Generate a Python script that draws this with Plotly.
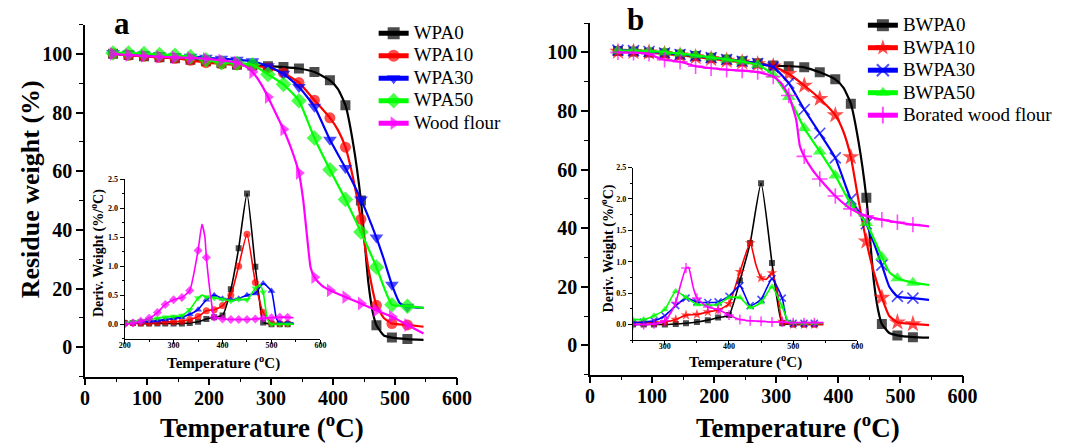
import plotly.graph_objects as go

FONT = "Liberation Serif"
W_PX, H_PX = 1072, 443

# ---------------- Panel a: TGA curves (Temperature degC, residue %) ----------------
wpa0_t = [45, 70, 95, 120, 145, 170, 195, 220, 245, 270, 295, 320, 345, 370, 395, 408, 420, 432, 445, 457, 464, 470, 482, 495, 520, 546]
wpa0_w = [100, 99.6, 99.2, 98.8, 98.5, 98, 97.5, 96.8, 96.3, 96, 95.8, 95.5, 95, 93.8, 91, 88, 82.5, 70, 50, 22, 12, 7.5, 4, 3.3, 2.8, 2.5]

wpa10_t = [45, 70, 95, 120, 145, 170, 195, 220, 245, 270, 295, 320, 345, 370, 395, 408, 420, 432, 445, 457, 470, 482, 495, 520, 546]
wpa10_w = [100, 99.5, 99.2, 98.8, 98.5, 97.8, 97, 96.6, 96.3, 96, 95.2, 93.5, 90.2, 84.2, 78.2, 74, 68.2, 58, 43.6, 27, 14.3, 10, 8.1, 7.6, 7]

wpa30_t = [45, 70, 95, 120, 145, 170, 195, 220, 245, 270, 295, 320, 345, 370, 395, 420, 445, 470, 482, 495, 508, 520, 546]
wpa30_w = [100.3, 100, 99.8, 99.5, 99.2, 99, 98.7, 98.3, 98, 97.5, 95.8, 93.2, 88.7, 82, 70.7, 61.1, 50.4, 37.4, 30, 21.3, 15, 13.8, 13.4]

wpa50_t = [45, 70, 95, 120, 145, 170, 195, 220, 245, 270, 295, 320, 345, 370, 395, 420, 445, 470, 483, 495, 520, 546]
wpa50_w = [100.3, 100.3, 100.1, 99.8, 99.5, 99, 98, 97, 96.8, 96.3, 93, 89.6, 84, 71.3, 60.5, 50.4, 39.3, 27.3, 20, 14.5, 14, 13.4]

wood_t = [45, 70, 95, 120, 145, 170, 195, 220, 245, 258, 270, 283, 295, 307, 320, 332, 345, 352, 358, 364, 370, 382, 395, 420, 445, 470, 495, 520, 546]
wood_w = [100, 99.6, 99.3, 99, 98.8, 98.6, 98.3, 97.8, 97, 95.8, 93.8, 90, 85.3, 80, 74.3, 68, 59.4, 50, 38, 27, 23.9, 21, 19.4, 17.1, 14.9, 12.6, 10.4, 7.6, 4.7]

# ---------------- Panel b: TGA curves ----------------
bwpa0_t = [45, 70, 95, 120, 145, 170, 195, 220, 245, 270, 295, 320, 345, 370, 395, 408, 420, 432, 445, 457, 464, 470, 482, 495, 520, 546]
bwpa0_w = [100.5, 100.3, 100, 99.7, 99.3, 98.8, 98.2, 97.6, 97, 96.3, 95.5, 95.3, 94.9, 93.2, 90.8, 88, 82.5, 70, 50.4, 22, 12, 7.3, 4.2, 3.4, 2.8, 2.6]

bwpa10_t = [45, 70, 95, 120, 145, 170, 195, 220, 245, 270, 295, 320, 345, 370, 395, 408, 420, 432, 445, 457, 470, 482, 495, 520, 546]
bwpa10_w = [100.3, 100.2, 100, 99.5, 99, 98.4, 97.8, 97.2, 96.6, 96, 95.3, 92.7, 88.7, 84.2, 78.6, 73, 64.3, 50, 35.5, 25, 16.3, 10, 7.9, 7.3, 6.9]

bwpa30_t = [45, 70, 95, 120, 145, 170, 195, 220, 245, 270, 295, 320, 345, 370, 395, 420, 445, 470, 482, 495, 520, 546]
bwpa30_w = [100.8, 100.6, 100.3, 99.8, 99.3, 98.8, 98.2, 97.6, 97, 96.2, 95, 89.5, 80.5, 72.4, 64, 49.9, 41.5, 27.4, 20, 16.7, 16.1, 15.5]

bwpa50_t = [45, 70, 95, 120, 145, 170, 195, 220, 245, 270, 295, 320, 345, 370, 395, 420, 445, 470, 482, 495, 520, 546]
bwpa50_w = [100.6, 100.6, 100.5, 100.1, 99.6, 99, 98.3, 97.6, 96.9, 95.8, 92.4, 84.8, 74.1, 66.2, 58, 48.2, 41.8, 30.2, 25, 22.9, 21.4, 20.6]

borated_t = [45, 70, 95, 108, 120, 145, 170, 195, 220, 245, 270, 295, 308, 320, 332, 338, 345, 358, 370, 395, 420, 445, 470, 495, 520, 546]
borated_w = [100, 99.9, 99.5, 98.3, 97.5, 96.8, 95.3, 94.6, 94.1, 93.8, 93.3, 91.8, 89.5, 85.3, 77, 68, 64.5, 60, 56.8, 51, 46.6, 44.2, 42.9, 42, 41.2, 40.6]

# ---------------- Inset a: DTG curves (%/degC) ----------------
wpa0_dt = [200, 217, 233, 250, 267, 283, 300, 317, 333, 350, 367, 383, 400, 417, 433, 450, 467, 475, 483, 500, 517, 533, 545]
wpa0_d = [0.02, 0.02, 0.01, 0.01, 0.01, 0.01, 0.01, 0.01, 0.02, 0.04, 0.09, 0.12, 0.15, 0.6, 1.31, 2.25, 0.99, 0.45, 0.03, 0.0, 0.0, 0.0, 0.0]

wpa10_dt = [200, 217, 233, 250, 267, 283, 300, 317, 333, 350, 367, 383, 400, 417, 433, 450, 467, 483, 500, 517, 533, 545]
wpa10_d = [0.02, 0.02, 0.02, 0.02, 0.03, 0.04, 0.04, 0.05, 0.08, 0.13, 0.23, 0.25, 0.32, 0.5, 1.0, 1.55, 0.72, 0.2, 0.02, 0.01, 0.01, 0.01]

wpa30_dt = [200, 217, 233, 250, 267, 283, 300, 317, 333, 350, 367, 383, 400, 417, 433, 450, 467, 483, 500, 510, 517, 533, 545]
wpa30_d = [0.03, 0.03, 0.04, 0.05, 0.06, 0.08, 0.1, 0.12, 0.17, 0.25, 0.42, 0.5, 0.44, 0.42, 0.44, 0.5, 0.53, 0.7, 0.57, 0.1, 0.02, 0.02, 0.02]

wpa50_dt = [200, 217, 233, 250, 267, 283, 300, 317, 333, 350, 358, 367, 383, 400, 417, 433, 450, 467, 476, 483, 492, 500, 517, 533, 545]
wpa50_d = [0.02, 0.04, 0.06, 0.08, 0.1, 0.12, 0.13, 0.15, 0.25, 0.45, 0.5, 0.47, 0.45, 0.43, 0.4, 0.43, 0.42, 0.62, 0.68, 0.55, 0.08, 0.0, 0.0, 0.0, 0.0]

wood_dt = [200, 217, 233, 250, 267, 283, 300, 317, 333, 350, 358, 364, 367, 377, 383, 400, 417, 433, 450, 467, 483, 500, 517, 533, 545]
wood_d = [0.0, 0.02, 0.05, 0.1, 0.2, 0.34, 0.42, 0.46, 0.58, 1.27, 1.72, 1.5, 1.15, 0.4, 0.12, 0.09, 0.08, 0.08, 0.08, 0.09, 0.1, 0.11, 0.12, 0.12, 0.11]

# ---------------- Inset b: DTG curves ----------------
bwpa0_dt = [250, 267, 283, 300, 317, 333, 350, 367, 383, 400, 417, 433, 450, 467, 475, 483, 500, 517, 533, 547]
bwpa0_d = [0.0, 0.0, 0.0, 0.0, 0.01, 0.02, 0.04, 0.07, 0.11, 0.15, 0.7, 1.3, 2.25, 0.98, 0.4, 0.02, 0.0, 0.0, 0.0, 0.0]

bwpa10_dt = [250, 267, 283, 300, 317, 333, 350, 367, 383, 400, 417, 433, 442, 450, 458, 467, 475, 483, 500, 517, 533, 547]
bwpa10_d = [0.03, 0.03, 0.03, 0.04, 0.08, 0.15, 0.16, 0.2, 0.23, 0.33, 0.84, 1.3, 0.95, 0.74, 0.72, 0.82, 0.55, 0.05, 0.0, 0.0, 0.0, 0.0]

bwpa30_dt = [250, 267, 283, 300, 317, 333, 350, 367, 383, 400, 417, 433, 450, 467, 483, 490, 500, 517, 533, 547]
bwpa30_d = [0.03, 0.04, 0.06, 0.14, 0.3, 0.42, 0.36, 0.35, 0.36, 0.45, 0.62, 0.3, 0.4, 0.73, 0.42, 0.08, 0.02, 0.02, 0.02, 0.02]

bwpa50_dt = [250, 267, 283, 300, 317, 333, 350, 367, 383, 400, 417, 433, 450, 467, 483, 492, 500, 517, 533, 547]
bwpa50_d = [0.08, 0.08, 0.14, 0.24, 0.53, 0.43, 0.32, 0.31, 0.32, 0.43, 0.43, 0.27, 0.35, 0.6, 0.28, 0.06, 0.03, 0.02, 0.02, 0.02]

borated_dt = [250, 267, 283, 300, 310, 317, 325, 333, 337, 344, 350, 367, 383, 400, 417, 433, 450, 467, 483, 500, 517, 533, 547]
borated_d = [0.0, 0.0, 0.01, 0.06, 0.2, 0.35, 0.65, 0.9, 0.91, 0.6, 0.42, 0.28, 0.24, 0.15, 0.08, 0.06, 0.05, 0.04, 0.04, 0.03, 0.03, 0.03, 0.03]

# tick values
main_x_ticks = [0, 100, 200, 300, 400, 500, 600]
main_y_ticks = [0, 20, 40, 60, 80, 100]
inset_a_x_ticks = [200, 300, 400, 500, 600]
inset_b_x_ticks = [300, 400, 500, 600]
inset_y_ticks = [0.0, 0.5, 1.0, 1.5, 2.0, 2.5]

# marker sampling (markers every 25 degC on main curves, every 16.7 degC in insets)
MAIN_T0, MAIN_STEP = 45, 25
INSET_T0, INSET_STEP = 200, 50 / 3

BLACK, RED, BLUE, GREEN, MAGENTA = "#000000", "#ff0000", "#0000ff", "#00ff00", "#ff00ff"


def px_x(px):
    return px / W_PX


def px_y(py):
    return 1 - py / H_PX


def marker_sizes(ts, t0, step, size):
    out = []
    for t in ts:
        k = round((t - t0) / step)
        out.append(size if abs((t - t0) - k * step) < 0.6 else 0)
    return out


fig = go.Figure()


def add_series(t, v, name, color, symbol, xa, ya, t0, step, msize, lw, legend=None, thin=False):
    sizes = marker_sizes(t, t0, step, msize)
    fig.add_trace(go.Scatter(
        x=t, y=v, mode="lines+markers",
        name=f'<span style="font-size:19px">{name}</span>',
        line=dict(color=color, width=lw, shape="spline", smoothing=0.5),
        marker=dict(symbol=symbol, size=sizes, color=color,
                    line=dict(width=1.6 if thin else 0, color=color)),
        xaxis=xa, yaxis=ya,
        showlegend=legend is not None,
        legend=legend if legend else "legend",
        hoverinfo="skip",
    ))


# main a
add_series(wpa0_t, wpa0_w, "WPA0", BLACK, "square", "x", "y", MAIN_T0, MAIN_STEP, 10, 2.2, "legend")
add_series(wpa10_t, wpa10_w, "WPA10", RED, "circle", "x", "y", MAIN_T0, MAIN_STEP, 11, 2.2, "legend")
add_series(wpa30_t, wpa30_w, "WPA30", BLUE, "triangle-down", "x", "y", MAIN_T0, MAIN_STEP, 12, 2.2, "legend")
add_series(wpa50_t, wpa50_w, "WPA50", GREEN, "diamond", "x", "y", MAIN_T0, MAIN_STEP, 12, 2.2, "legend")
add_series(wood_t, wood_w, "Wood flour", MAGENTA, "triangle-right", "x", "y", MAIN_T0, MAIN_STEP, 12, 2.2, "legend")

# main b
add_series(bwpa0_t, bwpa0_w, "BWPA0", BLACK, "square", "x2", "y2", MAIN_T0, MAIN_STEP, 10, 2.2, "legend2")
add_series(bwpa10_t, bwpa10_w, "BWPA10", RED, "star", "x2", "y2", MAIN_T0, MAIN_STEP, 13, 2.2, "legend2")
add_series(bwpa30_t, bwpa30_w, "BWPA30", BLUE, "x-thin-open", "x2", "y2", MAIN_T0, MAIN_STEP, 11, 2.2, "legend2", thin=True)
add_series(bwpa50_t, bwpa50_w, "BWPA50", GREEN, "triangle-up", "x2", "y2", MAIN_T0, MAIN_STEP, 12, 2.2, "legend2")
add_series(borated_t, borated_w, "Borated wood flour", MAGENTA, "cross-thin-open", "x2", "y2", MAIN_T0, MAIN_STEP, 11, 2.2, "legend2", thin=True)

# inset a
add_series(wpa0_dt, wpa0_d, "WPA0", BLACK, "square", "x3", "y3", INSET_T0, INSET_STEP, 6, 1.6)
add_series(wpa10_dt, wpa10_d, "WPA10", RED, "circle", "x3", "y3", INSET_T0, INSET_STEP, 7, 1.6)
add_series(wpa30_dt, wpa30_d, "WPA30", BLUE, "triangle-up", "x3", "y3", INSET_T0, INSET_STEP, 7, 1.6)
add_series(wpa50_dt, wpa50_d, "WPA50", GREEN, "triangle-down", "x3", "y3", INSET_T0, INSET_STEP, 7, 1.6)
add_series(wood_dt, wood_d, "Wood flour", MAGENTA, "diamond", "x3", "y3", INSET_T0, INSET_STEP, 7, 1.6)

# inset b
add_series(bwpa0_dt, bwpa0_d, "BWPA0", BLACK, "square", "x4", "y4", INSET_T0, INSET_STEP, 6, 1.6)
add_series(bwpa10_dt, bwpa10_d, "BWPA10", RED, "star", "x4", "y4", INSET_T0, INSET_STEP, 8, 1.6)
add_series(bwpa30_dt, bwpa30_d, "BWPA30", BLUE, "x-thin-open", "x4", "y4", INSET_T0, INSET_STEP, 7, 1.6, thin=True)
add_series(bwpa50_dt, bwpa50_d, "BWPA50", GREEN, "triangle-up", "x4", "y4", INSET_T0, INSET_STEP, 7, 1.6)
add_series(borated_dt, borated_d, "Borated wood flour", MAGENTA, "cross-thin-open", "x4", "y4", INSET_T0, INSET_STEP, 7, 1.6, thin=True)


def main_axis(domain, rng, ticks, minor_dtick, anchor, standoff=0):
    return dict(domain=domain, range=rng, anchor=anchor, tickmode="array", tickvals=ticks,
                showline=True, linecolor="black", linewidth=1.5, mirror=False,
                ticks="outside", ticklen=7, tickwidth=1.5, tickcolor="black",
                ticklabelstandoff=standoff,
                minor=dict(ticks="outside", ticklen=4, tickwidth=1.2, tickcolor="black", dtick=minor_dtick),
                showgrid=False, zeroline=False,
                tickfont=dict(family=FONT, size=20, color="black", weight="bold"))


def inset_axis(domain, rng, ticks, minor_dtick, anchor, fmt=None, standoff=0):
    d = dict(domain=domain, range=rng, anchor=anchor, tickmode="array", tickvals=ticks,
             showline=True, linecolor="black", linewidth=1, mirror=False,
             ticks="outside", ticklen=4, tickwidth=1, tickcolor="black",
             ticklabelstandoff=standoff,
             minor=dict(ticks="outside", ticklen=2, tickwidth=1, tickcolor="black", dtick=minor_dtick),
             showgrid=False, zeroline=False,
             tickfont=dict(family=FONT, size=8, color="black", weight="bold"))
    if fmt:
        d["tickformat"] = fmt
    return d


layout = dict(
    width=W_PX, height=H_PX, autosize=False,
    margin=dict(l=0, r=0, t=0, b=0),
    paper_bgcolor="white", plot_bgcolor="rgba(0,0,0,0)",
    font=dict(family=FONT, color="black"),
    xaxis=main_axis([px_x(80.7), px_x(460)], [0, 600], main_x_ticks, 50, "y", standoff=-4),
    yaxis=main_axis([px_y(376), px_y(20.7)], [-10, 110], main_y_ticks, 10, "x"),
    xaxis2=main_axis([px_x(595.7), px_x(975.7)], [0, 600], main_x_ticks, 50, "y2", standoff=-4),
    yaxis2=main_axis([px_y(374), px_y(19.3)], [-10, 110], main_y_ticks, 10, "x2"),
    xaxis3=inset_axis([px_x(121), px_x(320.7)], [200, 600], inset_a_x_ticks, 50, "y3", standoff=-6),
    yaxis3=inset_axis([px_y(338.3), px_y(176.7)], [-0.26, 2.5], inset_y_ticks, 0.25, "x3", ".1f"),
    xaxis4=inset_axis([px_x(639.3), px_x(868.3)], [250, 600], inset_b_x_ticks, 50, "y4", standoff=-6),
    yaxis4=inset_axis([px_y(339.3), px_y(165)], [-0.25, 2.5], inset_y_ticks, 0.25, "x4", ".1f"),
    legend=dict(x=px_x(375), y=px_y(13), xanchor="left", yanchor="top",
                font=dict(family=FONT, size=15, color="black"),
                bgcolor="rgba(0,0,0,0)", itemsizing="constant", tracegroupgap=0),
    legend2=dict(x=px_x(874), y=px_y(5), xanchor="left", yanchor="top",
                 font=dict(family=FONT, size=15, color="black"),
                 bgcolor="rgba(0,0,0,0)", itemsizing="constant", tracegroupgap=0),
    showlegend=True,
)
fig.update_layout(**layout)


def add_text(text, x, y, size, angle=0, bold=True):
    fig.add_annotation(text=text, x=px_x(x), y=px_y(y), xref="paper", yref="paper",
                       xanchor="center", yanchor="middle", showarrow=False, textangle=angle,
                       font=dict(family=FONT, size=size, color="black", weight="bold" if bold else "normal"))


add_text("Residue weight (%)", 24.5, 187, 26, -90)
add_text("Temperature (<sup>o</sup>C)", 260.8, 426, 27)
add_text("Temperature (<sup>o</sup>C)", 807.7, 426, 27)
add_text("Deriv. Weight (%/<sup>o</sup>C)", 93.5, 251.7, 14, -90)
add_text("Temperature (<sup>o</sup>C)", 222, 362, 15)
add_text("Deriv. Weight (%/<sup>o</sup>C)", 614, 246.7, 14, -90)
add_text("Temperature (<sup>o</sup>C)", 754.3, 361, 15)
add_text("a", 118, 20, 31)
add_text("b", 642, 16, 31)

fig.write_html("out.html")
